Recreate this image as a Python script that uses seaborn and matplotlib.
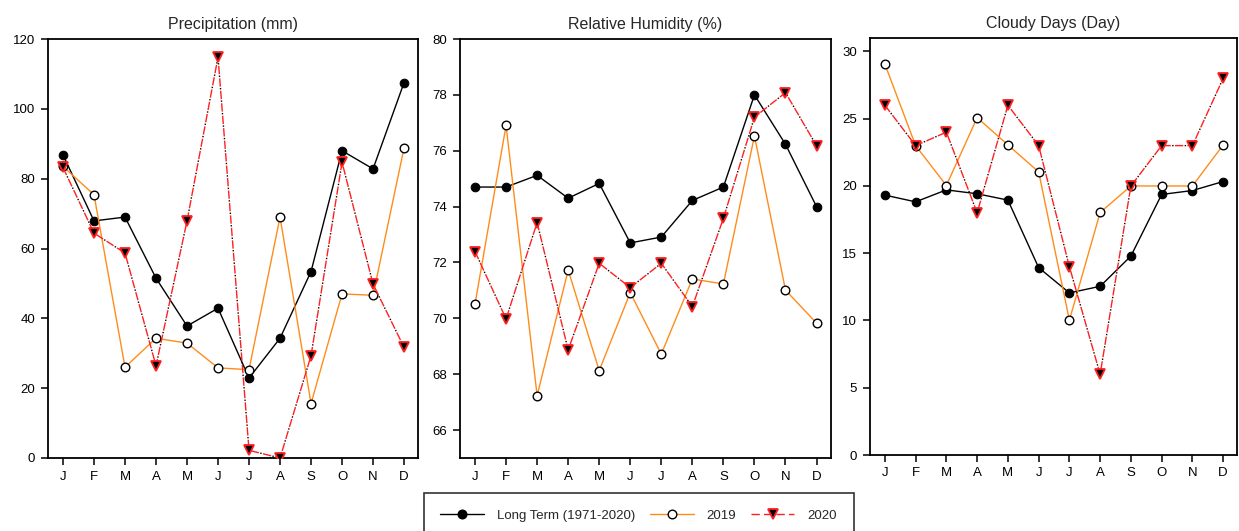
import numpy as np
import pandas as pd
import matplotlib
matplotlib.use("Agg")
import matplotlib.pyplot as plt
from matplotlib.lines import Line2D
import seaborn as sns

# --------------------------
# Data
# --------------------------
months = ["J", "F", "M", "A", "M", "J", "J", "A", "S", "O", "N", "D"]

precip_long = [86.8, 67.9, 69.0, 51.5, 37.8, 42.9, 22.9, 34.3, 53.4, 88.0, 82.8, 107.5]
precip_2019 = [83.5, 75.4, 26.0, 34.3, 32.9, 25.8, 25.3, 69.0, 15.6, 47.0, 46.6, 88.8]
precip_2020 = [83.2, 64.4, 58.7, 26.4, 67.9, 114.8, 2.2, 0.0, 29.3, 84.7, 49.8, 31.7]

rh_long = [74.7, 74.7, 75.12, 74.3, 74.83, 72.7, 72.91, 74.22, 74.7, 78.0, 76.23, 74.0]
rh_2019 = [70.51, 76.91, 67.23, 71.73, 68.13, 70.92, 68.72, 71.41, 71.23, 76.53, 71.01, 69.83]
rh_2020 = [72.39, 69.98, 73.43, 68.87, 71.97, 71.1, 71.97, 70.42, 73.58, 77.2, 78.08, 76.18]

cloud_long = [19.32, 18.82, 19.71, 19.42, 18.95, 13.93, 12.05, 12.54, 14.79, 19.37, 19.66, 20.33]
cloud_2019 = [29.06, 23.0, 20.03, 25.08, 23.05, 21.05, 10.02, 18.03, 20.0, 20.0, 20.0, 23.05]
cloud_2020 = [26.0, 23.0, 24.0, 18.0, 26.0, 23.0, 14.0, 6.0, 20.0, 23.0, 23.0, 28.0]

titles = ["Precipitation (mm)", "Relative Humidity (%)", "Cloudy Days (Day)"]
series_names = ["Long Term (1971-2020)", "2019", "2020"]

# --------------------------
# Style
# --------------------------
sns.set_style("ticks")
plt.rcParams["font.family"] = ["Liberation Sans", "DejaVu Sans"]
plt.rcParams["axes.linewidth"] = 1.3

orange = "#ff8c1a"
red = "#ff2020"

fig = plt.figure(figsize=(12.39, 5.31), dpi=100)
W, H = 1239, 531

def add_ax(x0, x1, y0, y1):
    return fig.add_axes([x0 / W, 1 - y1 / H, (x1 - x0) / W, (y1 - y0) / H])

axes = [
    add_ax(47.5, 418, 39, 458),
    add_ax(459.5, 830.5, 39, 458),
    add_ax(869.5, 1237, 38, 455),
]

data = [
    (precip_long, precip_2019, precip_2020),
    (rh_long, rh_2019, rh_2020),
    (cloud_long, cloud_2019, cloud_2020),
]
ylims = [(0, 120), (65, 80), (0, 31)]
yticks = [np.arange(0, 121, 20), np.arange(66, 81, 2), np.arange(0, 31, 5)]

x = np.arange(len(months))

for ax, (lt, y19, y20), title, ylim, yt in zip(axes, data, titles, ylims, yticks):
    df = pd.DataFrame({"x": x, "lt": lt, "y19": y19, "y20": y20})

    sns.lineplot(data=df, x="x", y="lt", ax=ax, color="black", lw=1.0,
                 marker="o", markersize=6.2, markerfacecolor="black",
                 markeredgecolor="black", zorder=3)
    sns.lineplot(data=df, x="x", y="y19", ax=ax, color=orange, lw=1.0,
                 marker="o", markersize=6.2, markerfacecolor="white",
                 markeredgecolor="black", markeredgewidth=1.0, zorder=4)
    # 2020: red dashes with small black bits in the gaps
    sns.lineplot(data=df, x="x", y="y20", ax=ax, color="black", lw=1.0,
                 linestyle=(2, (1, 8)), zorder=5)
    sns.lineplot(data=df, x="x", y="y20", ax=ax, color=red, lw=1.0,
                 linestyle=(0, (6, 3)), marker="v", markersize=7.5,
                 markerfacecolor="black", markeredgecolor=red,
                 markeredgewidth=1.3, zorder=6)

    ax.set_xlim(-0.5, 11.45)
    ax.set_ylim(*ylim)
    ax.set_yticks(yt)
    ax.set_xticks(x)
    ax.set_xticklabels(months)
    ax.set_xlabel("")
    ax.set_ylabel("")
    ax.set_title(title, fontsize=11.5, pad=7)
    ax.tick_params(axis="both", direction="out", length=5, width=1.1,
                   labelsize=9.5, pad=4, colors="black")
    for s in ax.spines.values():
        s.set_visible(True)
        s.set_color("black")

# --------------------------
# Legend
# --------------------------
handles = [
    Line2D([0], [0], color="black", lw=1.0, marker="o", markersize=6.2,
           markerfacecolor="black", markeredgecolor="black"),
    Line2D([0], [0], color=orange, lw=1.0, marker="o", markersize=6.2,
           markerfacecolor="white", markeredgecolor="black"),
    Line2D([0], [0], color=red, lw=1.0, linestyle=(0, (6, 3)), marker="v",
           markersize=7.5, markerfacecolor="black", markeredgecolor=red,
           markeredgewidth=1.3),
]
leg = fig.legend(handles, series_names, loc="upper left",
                 bbox_to_anchor=(424 / W, 1 - 493 / H), ncol=3,
                 frameon=True, fancybox=False, edgecolor="black",
                 fontsize=9.5, handlelength=3.3, handletextpad=1.0,
                 columnspacing=1.1, borderpad=1.25, borderaxespad=0)
leg.get_frame().set_linewidth(1.2)

fig.savefig("out.png", dpi=100)
